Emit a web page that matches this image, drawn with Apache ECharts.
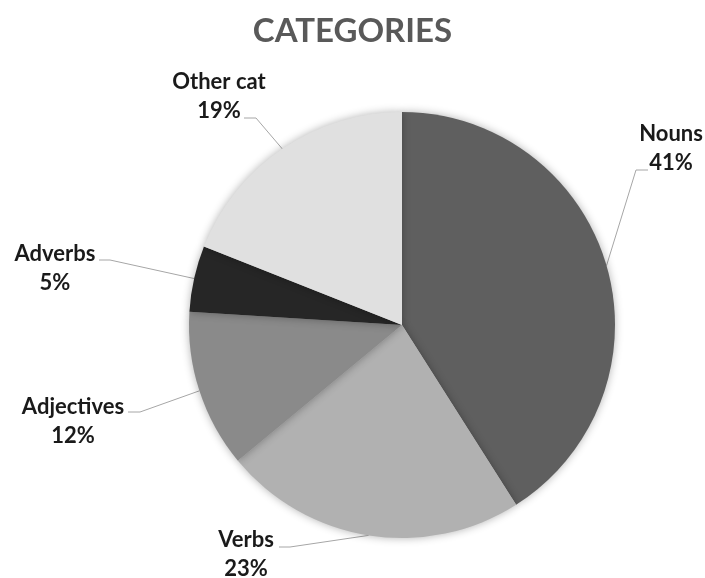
<!DOCTYPE html>
<html>
<head>
<meta charset="utf-8">
<script src="https://cdn.jsdelivr.net/npm/echarts@6/dist/echarts.min.js"></script>
<style>html,body{margin:0;padding:0;background:#fff}#c{width:705px;height:578px}</style>
</head>
<body>
<div id="c"></div>
<script>
var categories = ['Nouns', 'Verbs', 'Adjectives', 'Adverbs', 'Other cat'];
var percents = [41, 23, 12, 5, 19];
var colors = ['#5f5f5f', '#b1b1b1', '#8a8a8a', '#262626', '#e0e0e0'];

// label placement (text centre, leader bend, leader end)
var labelPos = [
  {x: 671, y: 148, bend: [636, 170], end: [648, 170]},
  {x: 246, y: 554, bend: [290, 547], end: [279, 547]},
  {x: 73,  y: 421, bend: [140, 412], end: [128, 412]},
  {x: 55,  y: 268, bend: [110, 260], end: [99, 260]},
  {x: 219, y: 96,  bend: [256, 118], end: [244, 118]}
];

var chart = echarts.init(document.getElementById('c'));
chart.setOption({
  animation: false,
  title: {
    text: 'CATEGORIES',
    left: 'center',
    top: 10,
    textStyle: {fontFamily: 'Lato', fontWeight: 'bold', fontSize: 33, color: '#595959'}
  },
  series: [{
    type: 'pie',
    center: [402, 325],
    radius: 213,
    startAngle: 90,
    clockwise: true,
    data: categories.map(function (c, i) {
      return {name: c, value: percents[i], itemStyle: {color: colors[i]}};
    }),
    itemStyle: {borderWidth: 0, shadowBlur: 8, shadowColor: 'rgba(0,0,0,0.3)'},
    label: {
      show: true,
      position: 'outside',
      formatter: '{b}\n{c}%',
      fontFamily: 'Lato',
      fontWeight: 'bold',
      fontSize: 22,
      lineHeight: 29,
      color: '#1a1a1a',
      align: 'center',
      overflow: 'none'
    },
    labelLine: {show: true, lineStyle: {color: '#a6a6a6', width: 1}},
    labelLayout: function (params) {
      var p = labelPos[params.dataIndex];
      var start = params.labelLinePoints ? params.labelLinePoints[0] : p.bend;
      return {
        x: p.x,
        y: p.y,
        align: 'center',
        verticalAlign: 'middle',
        labelLinePoints: [start, p.bend, p.end]
      };
    }
  }]
});
</script>
</body>
</html>
